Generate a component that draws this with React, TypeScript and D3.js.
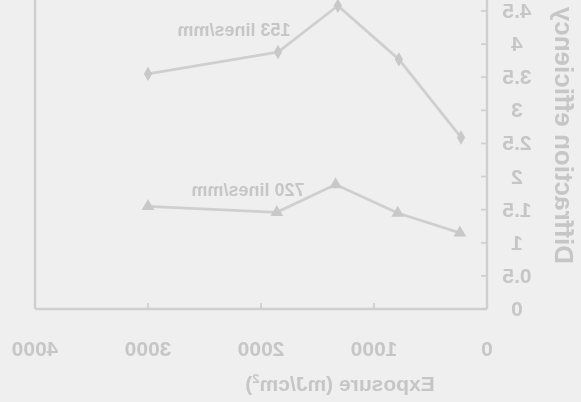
import React from "react";
import * as d3 from "d3";

const W = 581;
const H = 402;

const xTicks = [0, 1000, 2000, 3000, 4000];
const yTicks = [0, 0.5, 1, 1.5, 2, 2.5, 3, 3.5, 4, 4.5];

const s153X = [3000, 1850, 1320, 780, 230];
const s153Y = [3.55, 3.88, 4.58, 3.77, 2.59];
const s720X = [3000, 1860, 1340, 790, 240];
const s720Y = [1.55, 1.46, 1.88, 1.45, 1.15];

const label153 = "153 lines/mm";
const label720 = "720 lines/mm";
const xTitle = "Exposure (mJ/cm";
const yTitle = "Diffraction efficiency";

const BG = "#efefef";
const INK = "#c6c6c6";
const LINE = "#cfcfcf";
const FONT = "'Liberation Sans', Arial, sans-serif";

export default function App() {
  const x = d3.scaleLinear().domain([0, 4000]).range([94, 546]);
  const y = d3.scaleLinear().domain([0, 4.5]).range([309, 11]);
  const line = d3
    .line<[number, number]>()
    .x((d) => x(d[0]))
    .y((d) => y(d[1]));
  const d153 = s153X.map((v, i) => [v, s153Y[i]] as [number, number]);
  const d720 = s720X.map((v, i) => [v, s720Y[i]] as [number, number]);
  const diamond = d3.symbol(d3.symbolDiamond, 60)() as string;
  const tri = d3.symbol(d3.symbolTriangle, 70)() as string;

  return (
    <svg
      width={W}
      height={H}
      style={{ position: "absolute", left: 0, top: 0, background: BG }}
    >
      <defs>
        <filter
          id="soft"
          filterUnits="userSpaceOnUse"
          x={-50}
          y={-50}
          width={700}
          height={520}
        >
          <feGaussianBlur stdDeviation={0.7} />
        </filter>
      </defs>
      <rect width={W} height={H} fill={BG} />
      <g
        transform={`translate(${W},0) scale(-1,1)`}
        fontFamily={FONT}
        filter="url(#soft)"
      >
        {/* frame / axes */}
        <line x1={x(0)} x2={x(0)} y1={-5} y2={y(0)} stroke={LINE} strokeWidth={2.4} />
        <line x1={x(4000)} x2={x(4000)} y1={-5} y2={y(0)} stroke={LINE} strokeWidth={2.4} />
        <line x1={x(0)} x2={x(4000)} y1={y(0)} y2={y(0)} stroke={LINE} strokeWidth={2.4} />
        {xTicks.map((t) => (
          <g key={"xt" + t}>
            <line x1={x(t)} x2={x(t)} y1={y(0)} y2={y(0) - 6} stroke={LINE} strokeWidth={1.8} />
            <text
              x={x(t)}
              y={y(0) + 47}
              textAnchor="middle"
              fontSize={21}
              fontWeight="bold"
              fill={INK}
            >
              {t}
            </text>
          </g>
        ))}
        {yTicks.map((t) => (
          <g key={"yt" + t}>
            <line x1={x(0)} x2={x(0) + 6} y1={y(t)} y2={y(t)} stroke={LINE} strokeWidth={1.8} />
            <text
              x={64}
              y={y(t) + 7}
              textAnchor="middle"
              fontSize={21}
              fontWeight="bold"
              fill={INK}
            >
              {t}
            </text>
          </g>
        ))}
        {/* series */}
        <path d={line(d153) as string} fill="none" stroke={LINE} strokeWidth={2.8} />
        <path d={line(d720) as string} fill="none" stroke={LINE} strokeWidth={2.8} />
        {d153.map((d, i) => (
          <path key={"a" + i} d={diamond} transform={`translate(${x(d[0])},${y(d[1])})`} fill="#c8c8c8" />
        ))}
        {d720.map((d, i) => (
          <path key={"b" + i} d={tri} transform={`translate(${x(d[0])},${y(d[1])})`} fill="#c8c8c8" />
        ))}
        <text x={347} y={36} textAnchor="middle" fontSize={18} fontWeight="bold" fill={INK}>
          {label153}
        </text>
        <text x={333} y={196} textAnchor="middle" fontSize={18} fontWeight="bold" fill={INK}>
          {label720}
        </text>
        {/* titles */}
        <text x={241} y={391} textAnchor="middle" fontSize={21} fontWeight="bold" fill={INK}>
          {xTitle}
          <tspan dy={-8} fontSize={13}>2</tspan>
          <tspan dy={8}>)</tspan>
        </text>
        <text
          transform={`translate(26,264) rotate(-90)`}
          textAnchor="start"
          fontSize={26}
          fontWeight="bold"
          fill={INK}
        >
          {yTitle}
        </text>
      </g>
    </svg>
  );
}
